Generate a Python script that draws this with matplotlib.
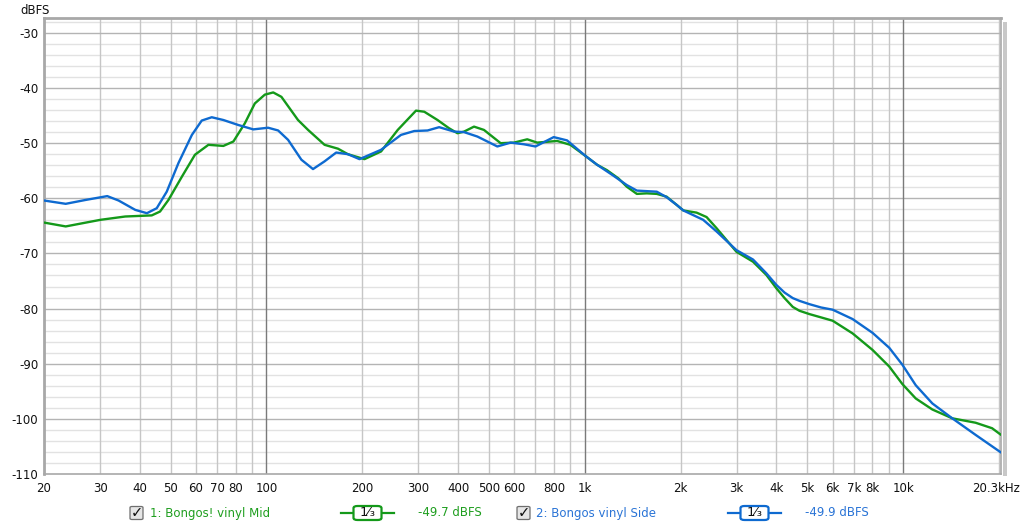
import numpy as np
import matplotlib
matplotlib.use("Agg")
import matplotlib.pyplot as plt
from matplotlib.patches import FancyBboxPatch, Rectangle

# ---------------- data ----------------
mid_freq = [20, 23.4, 30.1, 36.0, 43.6, 46.3, 49.2, 54.2, 59.6, 65.7, 73.2, 78.7, 85.5, 91.9,
            98.8, 105, 111.4, 125.6, 135.1, 152.2, 167.7, 180.2, 203.1, 229.1, 258.4, 294.9,
            313.1, 344.6, 374.7, 398.1, 417.6, 448.7, 482.2, 543.9, 598.7, 659.4, 708.6, 818.5,
            900.7, 1004, 1092, 1174, 1276, 1355, 1457, 1565, 1683, 1807, 1944, 2039, 2245,
            2413, 2592, 2995, 3376, 3718, 3996, 4242, 4502, 4726, 5078, 5524, 6006, 6938,
            8016, 9042, 9950, 10956, 12353, 14267, 16889, 19035, 20300]
mid_db = [-64.4, -65.1, -63.9, -63.3, -63.1, -62.4, -60.3, -56.1, -52.1, -50.3, -50.5, -49.7,
          -46.4, -42.8, -41.2, -40.8, -41.6, -45.8, -47.6, -50.3, -51.0, -52.0, -52.9, -51.5,
          -47.6, -44.1, -44.3, -45.8, -47.3, -48.2, -47.9, -47.0, -47.6, -50.0, -49.9, -49.3,
          -49.9, -49.6, -50.3, -52.3, -53.9, -54.9, -56.4, -57.9, -59.2, -59.1, -59.2, -59.7,
          -61.2, -62.2, -62.6, -63.4, -65.4, -69.7, -71.5, -73.9, -76.3, -78.1, -79.7, -80.4,
          -81.0, -81.6, -82.2, -84.5, -87.5, -90.5, -93.7, -96.3, -98.3, -99.9, -100.7,
          -101.7, -102.9]

side_freq = [20, 23.4, 27.0, 31.6, 34.3, 38.7, 42.1, 45.2, 48.6, 52.9, 58.3, 62.6, 67.3, 73.2,
             81.5, 90.9, 101.2, 108.8, 116.9, 128.7, 140.0, 152.2, 165.6, 180.2, 196.0, 229.1,
             264.6, 291.2, 320.7, 348.6, 388.6, 417.6, 459.8, 531.2, 584.6, 643.6, 700.0, 798.6,
             879.7, 1004, 1092, 1230, 1355, 1457, 1565, 1683, 1807, 1944, 2039, 2354, 2592,
             2995, 3376, 3718, 3996, 4242, 4502, 4726, 5078, 5524, 6006, 6938, 8016, 9042,
             9950, 10956, 12353, 14267, 16889, 20300]
side_db = [-60.4, -61.0, -60.3, -59.6, -60.4, -62.1, -62.7, -61.8, -58.8, -53.6, -48.5, -45.9,
           -45.3, -45.8, -46.7, -47.5, -47.2, -47.7, -49.4, -53.0, -54.7, -53.3, -51.7, -52.0,
           -52.9, -51.2, -48.5, -47.8, -47.7, -47.1, -47.9, -48.0, -48.8, -50.6, -49.9, -50.2,
           -50.6, -48.9, -49.5, -52.3, -53.9, -55.9, -57.6, -58.6, -58.7, -58.8, -59.8, -61.2,
           -62.2, -63.9, -66.0, -69.4, -71.1, -73.6, -75.7, -77.1, -78.1, -78.6, -79.2, -79.8,
           -80.2, -81.9, -84.4, -87.1, -90.2, -93.9, -97.2, -99.9, -102.9, -106.1]

x_tick_vals = [20, 30, 40, 50, 60, 70, 80, 100, 200, 300, 400, 500, 600, 800, 1000, 2000,
               3000, 4000, 5000, 6000, 7000, 8000, 10000]
x_tick_labels = ["20", "30", "40", "50", "60", "70", "80", "100", "200", "300", "400", "500",
                 "600", "800", "1k", "2k", "3k", "4k", "5k", "6k", "7k", "8k", "10k"]
y_tick_vals = [-30, -40, -50, -60, -70, -80, -90, -100, -110]

legend_names = ["1: Bongos! vinyl Mid", "2: Bongos vinyl Side"]
legend_levels = ["-49.7 dBFS", "-49.9 dBFS"]
smoothing = "1\u2044\u2083"

GREEN = "#14991a"
BLUE = "#0e6ad0"
GREEN_T = "#1f9e1f"
BLUE_T = "#2a74d6"

# ---------------- figure ----------------
W, H = 1024, 527
fig = plt.figure(figsize=(W / 100, H / 100), dpi=100)
fig.patch.set_facecolor("white")
L, R, T, B = 44, 1001, 18, 474
ax = fig.add_axes([L / W, 1 - B / H, (R - L) / W, (B - T) / H])
ax.set_xscale("log")
ax.set_xlim(20.5, 20300)
ax.set_ylim(-110, -27.3)

# grid lines
minor_v = []
for dec in [10, 100, 1000, 10000]:
    for m in range(2, 10):
        v = dec * m
        if 20 <= v <= 20300:
            minor_v.append(v)
for v in minor_v:
    ax.axvline(v, color="#c6c6c6", lw=1.0, zorder=1)
for v in [100, 1000, 10000]:
    ax.axvline(v, color="#7a7a7a", lw=1.0, zorder=1.2)
for yv in np.arange(-108, -27, 2):
    if yv % 10 == 0:
        ax.axhline(yv, color="#b4b4b4", lw=1.0, zorder=1.1)
    else:
        ax.axhline(yv, color="#e2e2e2", lw=1.0, zorder=0.9)

ax.plot(mid_freq, mid_db, color=GREEN, lw=1.7, zorder=3, solid_joinstyle="round",
        solid_capstyle="round")
ax.plot(side_freq, side_db, color=BLUE, lw=1.7, zorder=4, solid_joinstyle="round",
        solid_capstyle="round")

ax.set_xticks(x_tick_vals)
ax.set_xticklabels(x_tick_labels)
ax.xaxis.set_minor_locator(matplotlib.ticker.NullLocator())
ax.set_yticks(y_tick_vals)
ax.set_yticklabels([str(v) for v in y_tick_vals])
ax.tick_params(axis="both", length=0, labelsize=8.5, colors="#111111")
ax.tick_params(axis="x", pad=6)
ax.tick_params(axis="y", pad=4)

for s in ax.spines.values():
    s.set_color("#a8a8a8")
    s.set_linewidth(1.2)
ax.spines["left"].set_linewidth(2.0)
ax.spines["top"].set_linewidth(2.0)

# shadow on right side
fig.patches.append(Rectangle(((R + 2) / W, 1 - (B + 2) / H), 4 / W, (B - T - 2) / H,
                             transform=fig.transFigure, facecolor="#c8c8c8",
                             edgecolor="none", zorder=0))

fig.text(20 / W, 1 - 10 / H, "dBFS", fontsize=8.5, va="center", ha="left", color="#111111")
fig.text(1020 / W, 1 - 488 / H, "20.3kHz", fontsize=8.5, va="center", ha="right",
         color="#111111")

# ---------------- legend row ----------------
ly = 1 - 513 / H

def checkbox(x):
    fig.patches.append(FancyBboxPatch((x / W, ly - 6.5 / H), 13 / W, 13 / H,
                                      boxstyle="round,pad=0,rounding_size=0.002",
                                      transform=fig.transFigure, facecolor="#e6e6e6",
                                      edgecolor="#6e6e6e", lw=0.9))
    fig.text((x + 6.5) / W, ly, "\u2713", fontsize=10.5, ha="center", va="center",
             color="#111111", fontweight="bold")

def smooth_box(x0, x1, color):
    fig.lines.append(matplotlib.lines.Line2D([x0 / W, x1 / W], [ly, ly],
                                             transform=fig.transFigure, color=color, lw=1.6))
    cx = (x0 + x1) / 2
    fig.patches.append(FancyBboxPatch(((cx - 14) / W, ly - 7 / H), 28 / W, 14 / H,
                                      boxstyle="round,pad=0,rounding_size=0.004",
                                      transform=fig.transFigure, facecolor="white",
                                      edgecolor=color, lw=1.6, zorder=3))
    fig.text(cx / W, ly, smoothing, fontsize=9.5, ha="center", va="center",
             color="#111111", zorder=4)

checkbox(130)
fig.text(150 / W, ly, legend_names[0], fontsize=8.5, ha="left", va="center", color=GREEN_T)
smooth_box(341, 394, GREEN)
fig.text(418 / W, ly, legend_levels[0], fontsize=8.5, ha="left", va="center", color=GREEN_T)

checkbox(517)
fig.text(536 / W, ly, legend_names[1], fontsize=8.5, ha="left", va="center", color=BLUE_T)
smooth_box(728, 781, BLUE)
fig.text(805 / W, ly, legend_levels[1], fontsize=8.5, ha="left", va="center", color=BLUE_T)

fig.savefig("out.png", dpi=100, facecolor="white")
